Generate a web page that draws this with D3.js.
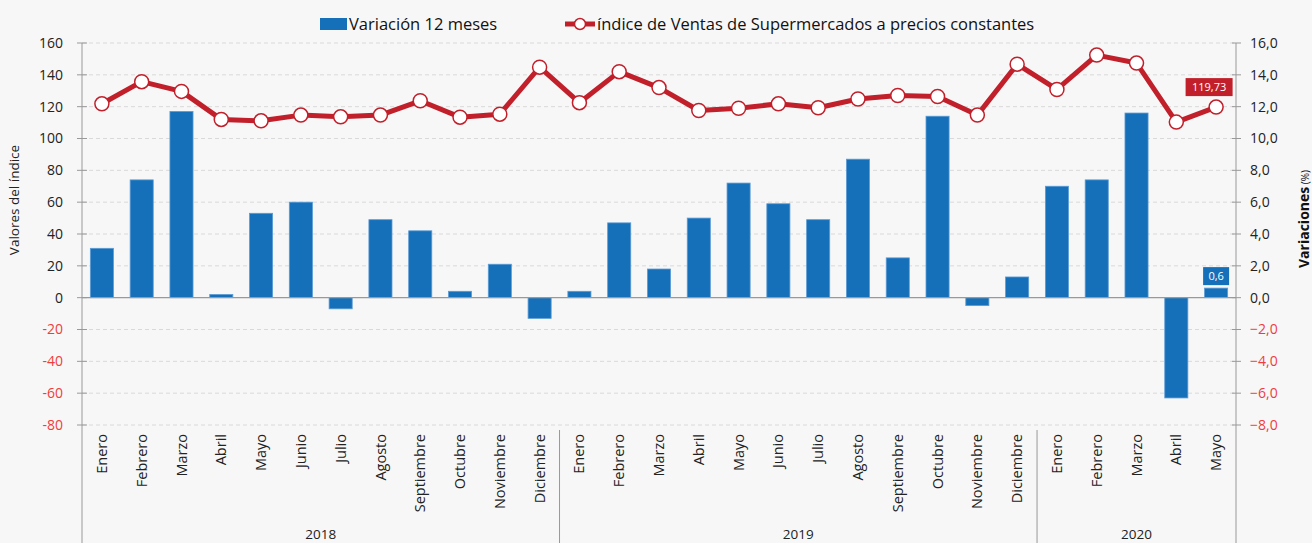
<!DOCTYPE html>
<html>
<head>
<meta charset="utf-8">
<script src="https://cdn.jsdelivr.net/npm/d3@7.9.0/dist/d3.min.js"></script>
<style>
  html, body { margin: 0; padding: 0; background: #f7f7f7; }
  svg { display: block; font-family: 'Open Sans', Lato, sans-serif; }
</style>
</head>
<body>
<svg id="chart" width="1312" height="543"></svg>
<script>
const meses = ['Enero', 'Febrero', 'Marzo', 'Abril', 'Mayo', 'Junio', 'Julio', 'Agosto',
  'Septiembre', 'Octubre', 'Noviembre', 'Diciembre',
  'Enero', 'Febrero', 'Marzo', 'Abril', 'Mayo', 'Junio', 'Julio', 'Agosto',
  'Septiembre', 'Octubre', 'Noviembre', 'Diciembre',
  'Enero', 'Febrero', 'Marzo', 'Abril', 'Mayo'];
const anios = ['2018', '2019', '2020'];
const mesesPorAnio = [12, 12, 5];

// variación 12 meses (%), eje derecho
const variacion = [3.1, 7.4, 11.7, 0.2, 5.3, 6.0, -0.7, 4.9, 4.2, 0.4, 2.1, -1.3,
  0.4, 4.7, 1.8, 5.0, 7.2, 5.9, 4.9, 8.7, 2.5, 11.4, -0.5, 1.3,
  7.0, 7.4, 11.6, -6.3, 0.6];

// índice de ventas a precios constantes, eje izquierdo
const indice = [121.8, 135.7, 129.6, 112.0, 111.1, 114.7, 113.6, 114.7, 123.7, 113.4, 115.3, 144.8,
  122.5, 142.0, 132.0, 117.6, 119.0, 121.8, 119.3, 124.8, 127.0, 126.4, 114.7, 146.7,
  130.8, 152.4, 147.4, 110.3, 119.73];

const ticksIzq = [160, 140, 120, 100, 80, 60, 40, 20, 0, -20, -40, -60, -80];
const ticksDer = [16, 14, 12, 10, 8, 6, 4, 2, 0, -2, -4, -6, -8];

const azul = '#1570b9';
const rojo = '#c1202b';
const negRojo = '#f03c3c';

const es = d3.formatLocale({ decimal: ',', thousands: '.', grouping: [3], currency: ['$', ''] });
const fmt1 = es.format('.1f');
const fmt2 = es.format('.2f');

const svg = d3.select('#chart');
const mLeft = 82, mRight = 1236, mTop = 43, mBottom = 425;

const x = d3.scaleBand()
  .domain(d3.range(meses.length))
  .range([mLeft, mRight])
  .paddingInner(0.42)
  .paddingOuter(0.21);

const yL = d3.scaleLinear().domain([-80, 160]).range([mBottom, mTop]);
const yR = d3.scaleLinear().domain([-8, 16]).range([mBottom, mTop]);

// grid
svg.append('g')
  .selectAll('line')
  .data(ticksIzq.filter((d) => d !== 0))
  .join('line')
  .attr('x1', mLeft).attr('x2', mRight)
  .attr('y1', (d) => yL(d)).attr('y2', (d) => yL(d))
  .attr('stroke', '#d9d9d9')
  .attr('stroke-dasharray', '4,3');

// bars
svg.append('g')
  .selectAll('rect')
  .data(variacion)
  .join('rect')
  .attr('x', (d, i) => x(i))
  .attr('width', x.bandwidth())
  .attr('y', (d) => yR(Math.max(0, d)))
  .attr('height', (d) => Math.abs(yR(d) - yR(0)))
  .attr('fill', azul)
  .attr('stroke', '#5b9bd5')
  .attr('stroke-width', 0.8);

// zero line
svg.append('line')
  .attr('x1', mLeft).attr('x2', mRight)
  .attr('y1', yL(0)).attr('y2', yL(0))
  .attr('stroke', '#999')
  .attr('stroke-width', 1.2);

// left axis
const axisL = svg.append('g');
axisL.append('line')
  .attr('x1', mLeft).attr('x2', mLeft)
  .attr('y1', mTop).attr('y2', 543)
  .attr('stroke', '#999');
axisL.selectAll('line.tk')
  .data(ticksIzq)
  .join('line')
  .attr('class', 'tk')
  .attr('x1', mLeft - 5).attr('x2', mLeft + 5)
  .attr('y1', (d) => yL(d)).attr('y2', (d) => yL(d))
  .attr('stroke', '#999');
axisL.selectAll('text')
  .data(ticksIzq)
  .join('text')
  .attr('x', 63)
  .attr('y', (d) => yL(d))
  .attr('dy', '0.35em')
  .attr('text-anchor', 'end')
  .attr('font-size', 14)
  .attr('fill', (d) => (d < 0 ? negRojo : '#222'))
  .text((d) => d);

// right axis
const axisR = svg.append('g');
axisR.append('line')
  .attr('x1', mRight).attr('x2', mRight)
  .attr('y1', mTop).attr('y2', 543)
  .attr('stroke', '#999');
axisR.selectAll('line.tk')
  .data(ticksDer)
  .join('line')
  .attr('class', 'tk')
  .attr('x1', mRight - 4).attr('x2', mRight + 5)
  .attr('y1', (d) => yR(d)).attr('y2', (d) => yR(d))
  .attr('stroke', '#999');
axisR.selectAll('text')
  .data(ticksDer)
  .join('text')
  .attr('x', 1250)
  .attr('y', (d) => yR(d))
  .attr('dy', '0.35em')
  .attr('font-size', 14)
  .attr('fill', (d) => (d < 0 ? negRojo : '#222'))
  .text((d) => fmt1(d));

// axis titles
svg.append('text')
  .attr('transform', 'translate(19,200) rotate(-90)')
  .attr('text-anchor', 'middle')
  .attr('font-size', 13.5)
  .attr('fill', '#222')
  .text('Valores del índice');

const tR = svg.append('text')
  .attr('transform', 'translate(1309,219) rotate(-90)')
  .attr('text-anchor', 'middle')
  .attr('fill', '#111');
tR.append('tspan').attr('font-size', 14).attr('font-weight', 'bold').text('Variaciones');
tR.append('tspan').attr('font-size', 10).text(' (%)');

// month labels
svg.append('g')
  .selectAll('text')
  .data(meses)
  .join('text')
  .attr('transform', (d, i) => `translate(${x(i) + x.bandwidth() / 2},434) rotate(-90)`)
  .attr('text-anchor', 'end')
  .attr('dy', '0.35em')
  .attr('font-size', 14.5)
  .attr('fill', '#222')
  .text((d) => d);

// year separators and labels
let start = 0;
const groups = anios.map((a, k) => {
  const g = { anio: a, from: start, to: start + mesesPorAnio[k] };
  start += mesesPorAnio[k];
  return g;
});
const edge = (i) => mLeft + i * x.step();
svg.append('g')
  .selectAll('line')
  .data(groups.slice(1))
  .join('line')
  .attr('x1', (d) => edge(d.from)).attr('x2', (d) => edge(d.from))
  .attr('y1', 430).attr('y2', 543)
  .attr('stroke', '#999');
svg.append('g')
  .selectAll('text')
  .data(groups)
  .join('text')
  .attr('x', (d) => (edge(d.from) + edge(d.to)) / 2)
  .attr('y', 539)
  .attr('text-anchor', 'middle')
  .attr('font-size', 13.5)
  .attr('fill', '#222')
  .text((d) => d.anio);

// line
const cx = (i) => x(i) + x.bandwidth() / 2;
svg.append('path')
  .datum(indice)
  .attr('d', d3.line().x((d, i) => cx(i)).y((d) => yL(d)))
  .attr('fill', 'none')
  .attr('stroke', rojo)
  .attr('stroke-width', 5)
  .attr('stroke-linejoin', 'round');
svg.append('g')
  .selectAll('circle')
  .data(indice)
  .join('circle')
  .attr('cx', (d, i) => cx(i))
  .attr('cy', (d) => yL(d))
  .attr('r', 7)
  .attr('fill', '#fff')
  .attr('stroke', rojo)
  .attr('stroke-width', 1.5);

// data labels for the last month
const last = meses.length - 1;
function boxLabel(text, xc, yc, w, color) {
  const g = svg.append('g');
  g.append('rect')
    .attr('x', xc - w / 2).attr('y', yc - 9)
    .attr('width', w).attr('height', 18)
    .attr('fill', color);
  g.append('text')
    .attr('x', xc).attr('y', yc)
    .attr('dy', '0.35em')
    .attr('text-anchor', 'middle')
    .attr('font-size', 11)
    .attr('fill', '#fff')
    .text(text);
}
boxLabel(fmt2(indice[last]), cx(last) - 7, yL(indice[last]) - 20, 47, rojo);
boxLabel(fmt1(variacion[last]), cx(last), yR(variacion[last]) - 12, 26, azul);

// legend
const lg = svg.append('g');
lg.append('rect').attr('x', 320).attr('y', 18).attr('width', 27).attr('height', 12).attr('fill', azul);
lg.append('text').attr('x', 349).attr('y', 24).attr('dy', '0.35em').attr('font-size', 16.5)
  .attr('fill', '#111').text('Variación 12 meses');
lg.append('line').attr('x1', 565).attr('x2', 595).attr('y1', 24).attr('y2', 24)
  .attr('stroke', rojo).attr('stroke-width', 5);
lg.append('circle').attr('cx', 580).attr('cy', 24).attr('r', 5.5)
  .attr('fill', '#fff').attr('stroke', rojo).attr('stroke-width', 1.5);
lg.append('text').attr('x', 597).attr('y', 24).attr('dy', '0.35em').attr('font-size', 16.5)
  .attr('fill', '#111').text('índice de Ventas de Supermercados a precios constantes');
</script>
</body>
</html>
